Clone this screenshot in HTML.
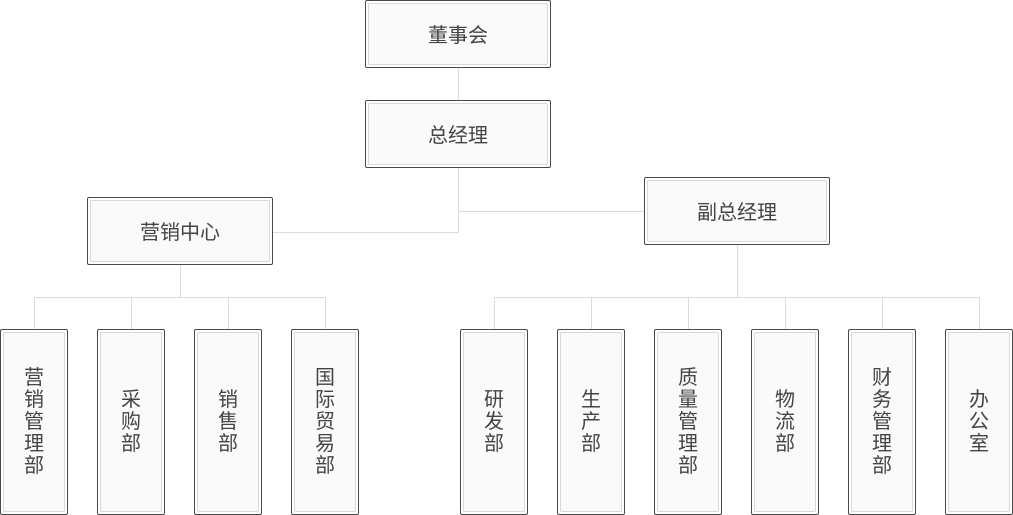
<!DOCTYPE html>
<html><head><meta charset="utf-8"><style>
body{margin:0;width:1013px;height:515px;background:#fff;position:relative;overflow:hidden;font-family:"Liberation Sans","Noto Sans CJK SC",sans-serif;}
.b{position:absolute;box-sizing:border-box;border:1px solid #4a4a4a;border-radius:2px;background:#fff;}
.b::before{content:"";position:absolute;left:2px;top:2px;right:2px;bottom:2px;border:1px solid #d8d8d8;border-radius:2px;background:#fafafa;}
.b span{position:absolute;left:0;right:0;top:50%;transform:translateY(-50%);text-align:center;color:#444;font-size:20px;line-height:22px;}
.h{width:186px;height:68px}
.h span{margin-top:2px}
.v{width:68px;height:186px;top:329px}
.v span{width:22px;margin:0 auto;word-break:break-all;}
.l{position:absolute;background:#dcdcdc;}
</style></head><body>
<div class="l" style="left:458px;top:67px;width:1px;height:34px"></div>
<div class="l" style="left:458px;top:167px;width:1px;height:66px"></div>
<div class="l" style="left:272px;top:232px;width:187px;height:1px"></div>
<div class="l" style="left:458px;top:211px;width:187px;height:1px"></div>
<div class="l" style="left:180px;top:264px;width:1px;height:33px"></div>
<div class="l" style="left:34px;top:297px;width:292px;height:1px"></div>
<div class="l" style="left:34px;top:297px;width:1px;height:33px"></div>
<div class="l" style="left:131px;top:297px;width:1px;height:33px"></div>
<div class="l" style="left:228px;top:297px;width:1px;height:33px"></div>
<div class="l" style="left:325px;top:297px;width:1px;height:33px"></div>
<div class="l" style="left:737px;top:244px;width:1px;height:53px"></div>
<div class="l" style="left:494px;top:297px;width:486px;height:1px"></div>
<div class="l" style="left:494px;top:297px;width:1px;height:33px"></div>
<div class="l" style="left:591px;top:297px;width:1px;height:33px"></div>
<div class="l" style="left:688px;top:297px;width:1px;height:33px"></div>
<div class="l" style="left:785px;top:297px;width:1px;height:33px"></div>
<div class="l" style="left:882px;top:297px;width:1px;height:33px"></div>
<div class="l" style="left:979px;top:297px;width:1px;height:33px"></div>

<div class="b h" style="left:365px;top:0"><span>董事会</span></div>
<div class="b h" style="left:365px;top:100px"><span>总经理</span></div>
<div class="b h" style="left:87px;top:197px"><span>营销中心</span></div>
<div class="b h" style="left:644px;top:177px"><span>副总经理</span></div>

<div class="b v" style="left:0"><span>营销管理部</span></div>
<div class="b v" style="left:97px"><span>采购部</span></div>
<div class="b v" style="left:194px"><span>销售部</span></div>
<div class="b v" style="left:291px"><span>国际贸易部</span></div>
<div class="b v" style="left:460px"><span>研发部</span></div>
<div class="b v" style="left:557px"><span>生产部</span></div>
<div class="b v" style="left:654px"><span>质量管理部</span></div>
<div class="b v" style="left:751px"><span>物流部</span></div>
<div class="b v" style="left:848px"><span>财务管理部</span></div>
<div class="b v" style="left:945px"><span>办公室</span></div>
</body></html>
